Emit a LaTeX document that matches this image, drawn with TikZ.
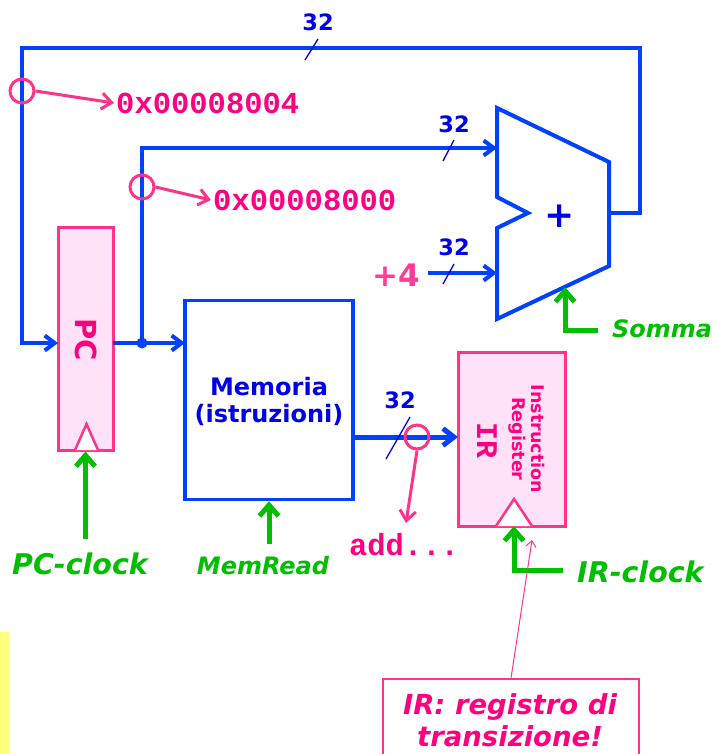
\documentclass[tikz,border=0pt]{standalone}
\usepackage{fontspec}
\setmainfont{DejaVu Sans}
\newfontfamily\monof{Liberation Mono}
\usetikzlibrary{arrows.meta}
\definecolor{wireblue}{RGB}{0,64,255}
\definecolor{txtblue}{RGB}{0,0,230}
\definecolor{pinkline}{RGB}{255,51,136}
\definecolor{pinktext}{RGB}{255,0,128}
\definecolor{pinklight}{RGB}{255,60,150}
\definecolor{regfill}{RGB}{255,226,248}
\definecolor{sigreen}{RGB}{0,190,0}
\definecolor{yel}{RGB}{255,255,128}
\newcommand{\fsz}[1]{\fontsize{#1}{#1}\selectfont}
\tikzset{
  wire/.style={draw=wireblue, line width=4pt, line join=miter},
  wirearr/.style={wire, -{Straight Barb[length=10pt,width=15pt]}},
  reg/.style={draw=pinkline, fill=regfill, line width=3pt, inner sep=0pt},
  clk/.style={draw=pinkline, fill=white, line width=2.5pt, line join=miter},
  garrow/.style={draw=sigreen, line width=5pt, -{Straight Barb[length=11pt,width=19pt]}},
  parrow/.style={draw=pinkline, line width=3pt, -{Straight Barb[length=10pt,width=16pt]}},
  probe/.style={circle, draw=pinkline, line width=3pt, minimum size=24pt, inner sep=0pt},
  bits/.style={draw=txtblue, line width=1.3pt},
  bitlbl/.style={text=txtblue, font=\bfseries\fsz{22.5}, inner sep=0pt},
  hexlbl/.style={text=pinktext, font=\monof\bfseries\fsz{30.5}, inner sep=2pt},
  siglbl/.style={text=sigreen, font=\bfseries\itshape\fsz{24}, inner sep=0pt},
  clklbl/.style={text=sigreen, font=\bfseries\itshape\fsz{28.5}, inner sep=0pt},
}
\begin{document}
\begin{tikzpicture}[x=1pt,y=-1pt]
\useasboundingbox (0,0) rectangle (714,754);
\fill[yel] (0,632) rectangle (10,754);

% registers and memory
\node[reg, minimum width=55pt, minimum height=223pt] (pc) at (85.5,338.5) {};
\node[text=pinktext, font=\bfseries\fsz{29}, rotate=-90] (pctxt) at (86,340) {PC};
\draw[clk] (75,450) -- (86.5,424) -- (98,450);

\node[draw=wireblue, line width=3.5pt, minimum width=168pt, minimum height=199pt, inner sep=0pt] (mem) at (269,400) {};
\node[text=txtblue, font=\bfseries\fsz{24}, align=center] (memtxt) at (269,401) {Memoria\\[3pt](istruzioni)};

\node[reg, minimum width=107pt, minimum height=174pt] (ir) at (511.5,439) {};
\node[text=pinktext, font=\monof\bfseries\fsz{30}, rotate=-90] (irtxt) at (487,440) {IR};
\node[text=pinktext, font=\bfseries\fsz{17.5}, rotate=-90, align=center] (irdesc) at (527,439) {Instruction\\[1pt]Register};
\draw[clk] (496,526) -- (514,499) -- (532,526);

% adder
\draw[wire, line width=4pt] (497,108) -- (609,162) -- (609,266) -- (497,319) -- (497,228) -- (528,213) -- (497,197) -- cycle;
\node[text=txtblue, font=\bfseries\fsz{36}] (plus) at (560,216) {+};
\coordinate (addA) at (497,148);
\coordinate (addB) at (497,273);
\coordinate (addOut) at (609,213);
\coordinate (addCtl) at (565,287);

% wires
\coordinate (loopR) at (640,213);
\coordinate (loopTR) at (640,48);
\coordinate (loopTL) at (22,48);
\coordinate (loopBL) at (22,343);
\coordinate (pcin) at (58,343);
\draw[wirearr] (addOut) -- (loopR) -- (loopTR) -- (loopTL) -- (loopBL) -- (pcin);

\coordinate (pcout) at (113,343);
\coordinate (dot) at (142,343);
\coordinate (memin) at (185,343);
\draw[wirearr] (pcout) -- (memin);
\fill[wireblue] (dot) circle (5.5pt);
\draw[wirearr] (dot) |- (addA);

\node[text=pinklight, font=\bfseries\fsz{31}, inner sep=0pt] (four) at (396,275) {+4};
\coordinate (fourout) at (428,273);
\draw[wirearr] (fourout) -- (addB);

\coordinate (memout) at (353,437);
\coordinate (irin) at (458,437);
\draw[wire, line width=5pt, -{Straight Barb[length=11pt,width=17pt]}] (memout) -- (irin);

% bit widths
\draw[bits] (305,60) -- (318,39);
\node[bitlbl] (b1) at (318,22) {32};
\draw[bits] (443,161) -- (454,140);
\node[bitlbl] (b2) at (454,124) {32};
\draw[bits] (443,284) -- (454,264);
\node[bitlbl] (b3) at (454,247) {32};
\draw[bits] (386,459) -- (410,417);
\node[bitlbl] (b4) at (400,400) {32};

% probes
\node[probe] (c1) at (22,91) {};
\node[hexlbl, anchor=west] (h1) at (114,103) {0x00008004};
\draw[parrow] (c1.east) -- (h1.west);
\node[probe] (c2) at (142,187) {};
\node[hexlbl, anchor=west] (h2) at (211,200) {0x00008000};
\draw[parrow] (c2.east) -- (h2.west);
\node[probe] (c3) at (417,437) {};
\node[hexlbl] (h3) at (404,545) {add...};
\draw[parrow] (c3.south) -- (406,523);

% control signals
\node[clklbl] (pcclk) at (80,564) {PC-clock};
\draw[garrow] (pc.south |- 0,539) -- (pc.south);
\node[siglbl] (memrd) at (263,566) {MemRead};
\draw[garrow] (mem.south |- 0,544) -- (mem.south);
\node[siglbl, anchor=west] (somma) at (612,329) {Somma};
\draw[garrow] (598,330) -- (565,330) -- (addCtl);
\node[clklbl, anchor=west] (irclk) at (577,572) {IR-clock};
\draw[garrow] (563,570) -- (514,570) -- (514,526);

% callout
\node[draw=pinkline, line width=1.5pt, minimum width=256pt, minimum height=91pt, inner sep=0pt] (callout) at (511,724.5) {};
\node[text=pinktext, font=\bfseries\itshape\fsz{27.5}, align=center] (calltxt) at (510,720) {IR: registro di\\[4pt]transizione!};
\draw[draw=pinkline, line width=1pt, -{Straight Barb[length=6pt,width=10pt]}] (callout.north) -- (532,540);
\end{tikzpicture}
\end{document}
